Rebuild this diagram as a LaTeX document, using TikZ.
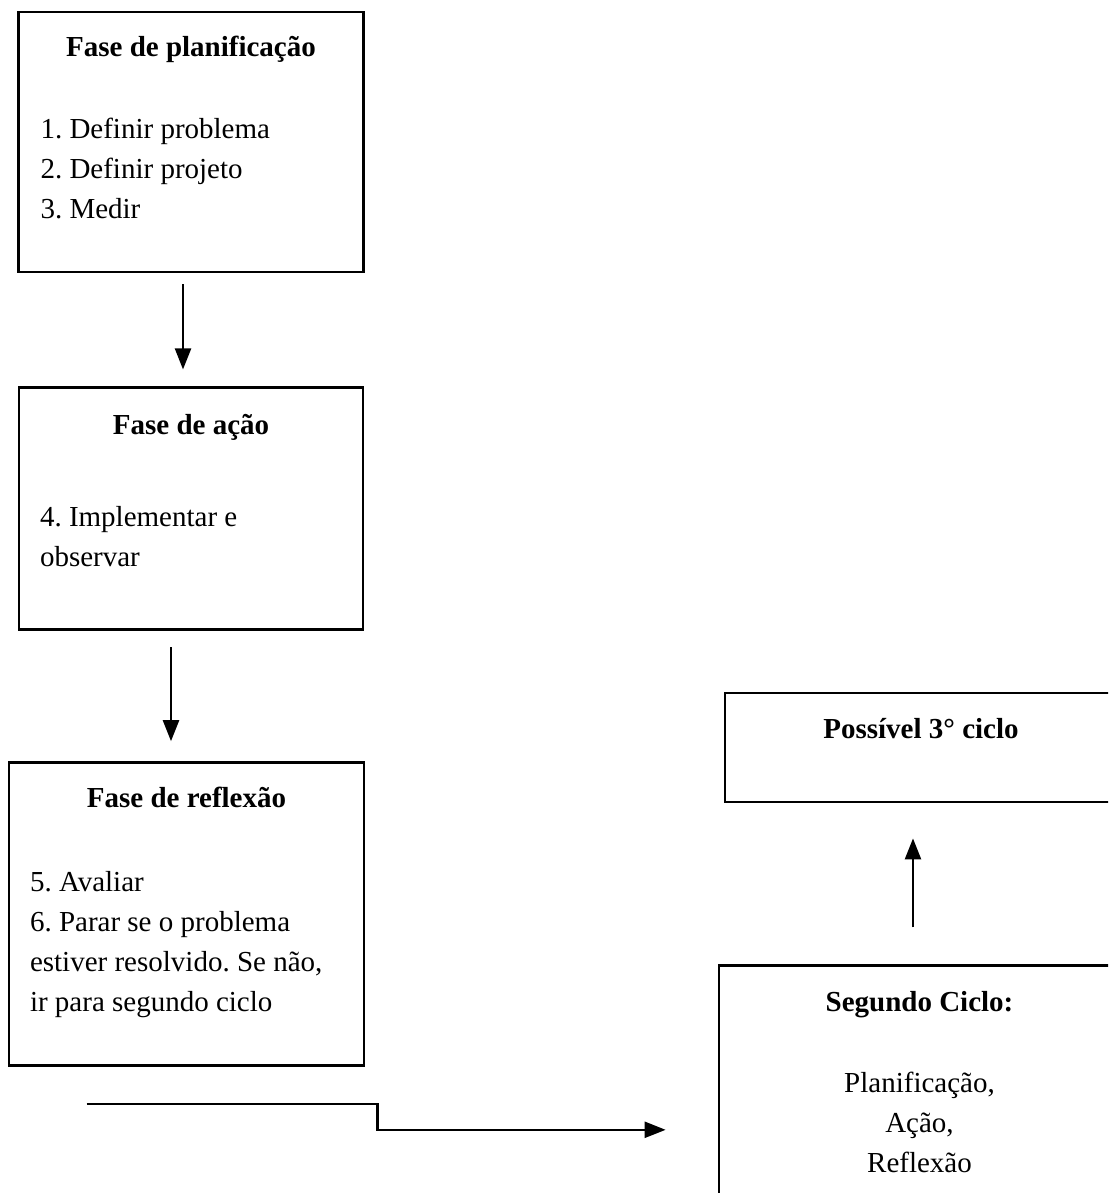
\documentclass[tikz,border=0pt]{standalone}
\usepackage{fontspec}
\setmainfont{Liberation Serif}
\usetikzlibrary{arrows.meta,positioning}

\begin{document}
\begin{tikzpicture}[
   font=\fontsize{14.5pt}{20pt}\selectfont\frenchspacing,
   box/.style={draw,line width=1.4pt,inner sep=0pt},
   head/.style={font=\fontsize{14.5pt}{20pt}\selectfont\bfseries,inner sep=0pt,anchor=base},
   body/.style={align=left,inner sep=0pt,anchor=base west},
   arr/.style={->,line width=1.2pt},
   >={Triangle[length=10.5pt,width=8pt]}]
 \useasboundingbox (0,0) rectangle (554pt,-596.5pt);
 \clip (0,0) rectangle (554pt,-596.5pt);
 \node[box,minimum width=172.5pt,minimum height=130pt] (plan) at (95.5pt,-71pt) {};
 \node[box,minimum width=172pt,minimum height=121pt,below=56.5pt of plan] (act) {};
 \node[box,minimum width=177.5pt,minimum height=151.5pt,below=65pt of act,xshift=-2.25pt] (refl) {};
 \node[box,minimum width=196pt,minimum height=54.5pt] (third) at (460.5pt,-373.75pt) {};
 \node[box,minimum width=200.5pt,minimum height=115pt,below=80.5pt of third,xshift=-0.75pt] (second) {};
 % multi-line nodes sit on the baseline of their last line
 \node[head] (planHead) at ([yshift=-23pt]plan.north) {Fase de planificação};
 \node[body] (planList) at ([xshift=11.5pt,yshift=-104pt]plan.north west) {1. Definir problema\\2. Definir projeto\\3. Medir};
 \node[head] (actHead) at ([yshift=-24pt]act.north) {Fase de ação};
 \node[body] (actList) at ([xshift=11pt,yshift=-90pt]act.north west) {4. Implementar e\\observar};
 \node[head] (reflHead) at ([yshift=-23pt]refl.north) {Fase de reflexão};
 \node[body] (reflList) at ([xshift=11pt,yshift=-125pt]refl.north west) {5. Avaliar\\6. Parar se o problema\\estiver resolvido. Se não,\\ir para segundo ciclo};
 \node[head] (thirdHead) at ([yshift=-23.5pt]third.north) {Possível 3° ciclo};
 \node[head] (secondHead) at ([yshift=-23.5pt]second.north) {Segundo Ciclo:};
 \node[body,align=center,anchor=base] (secondList) at ([yshift=-104pt]second.north) {Planificação,\\Ação,\\Reflexão};
 \draw[arr,shorten <=5.5pt,shorten >=8.5pt] ([xshift=-4pt]plan.south) -- ([xshift=-4pt]act.north);
 \draw[arr,shorten <=8pt,shorten >=10pt] ([xshift=-10pt]act.south) -- ([xshift=-10pt]act.south |- refl.north);
 \draw[arr,shorten <=18.5pt,shorten >=17.5pt] ([xshift=-3.25pt]second.north) -- ([xshift=-3.25pt]second.north |- third.south);
 \coordinate (loopStart) at ([xshift=39.5pt,yshift=-18.5pt]refl.south west);
 \coordinate (loopEnd) at ([xshift=-26pt,yshift=-24.5pt]second.west);
 \draw[arr] (loopStart) -- ++(145.5pt,0) |- (loopEnd);
\end{tikzpicture}
\end{document}
